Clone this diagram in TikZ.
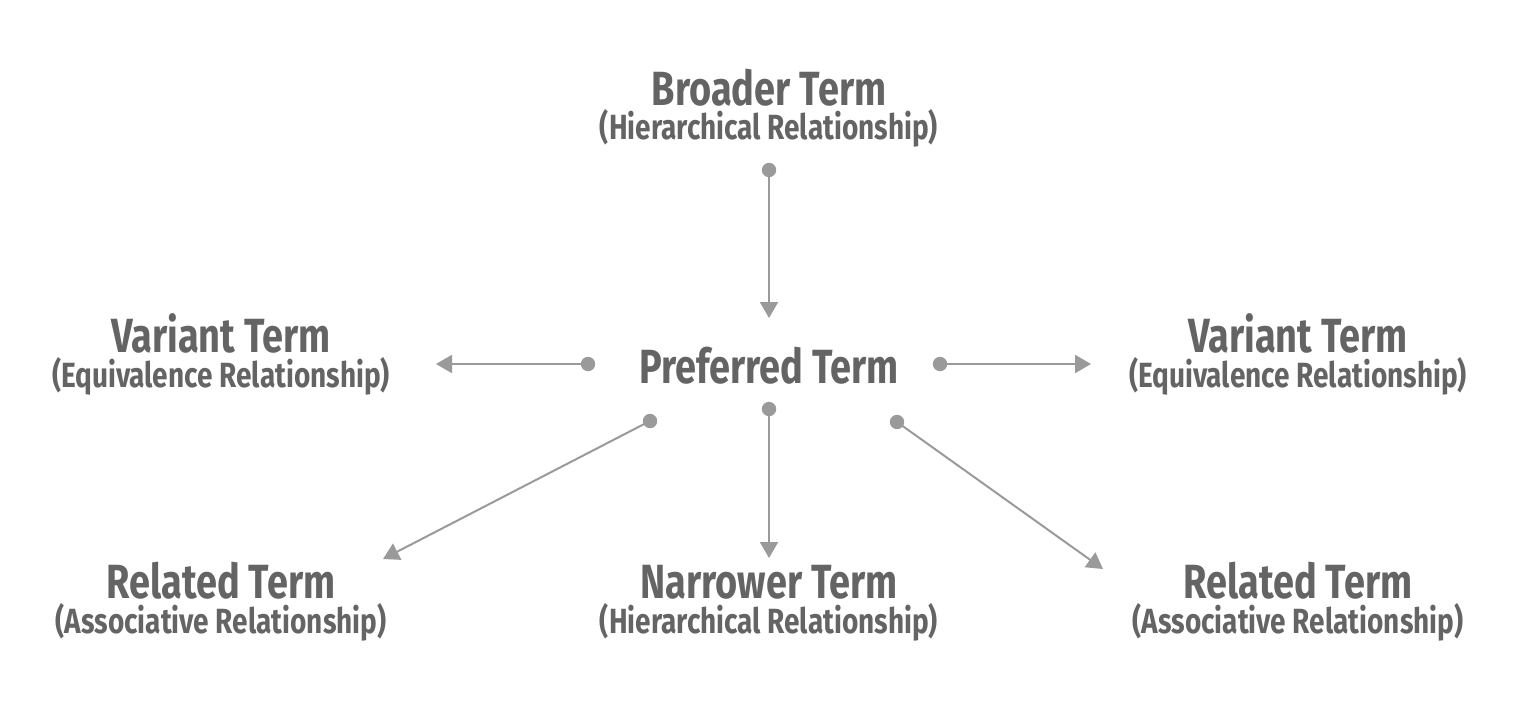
\documentclass[tikz,border=0pt]{standalone}
\usepackage{fontspec}
\setmainfont{Fira Sans}
\newfontfamily\ttlfont[FakeStretch=0.79]{Fira Sans Bold}
\newfontfamily\subfont[FakeStretch=0.8]{Fira Sans Bold}
\usetikzlibrary{arrows.meta}
\definecolor{txt}{HTML}{646464}
\definecolor{lin}{HTML}{9A9A9A}
\tikzset{
  ttl/.style={anchor=base, text=txt, inner sep=0pt, font=\ttlfont\fontsize{24}{24}\selectfont},
  sub/.style={anchor=base, text=txt, inner sep=0pt, font=\subfont\fontsize{17.5}{17.5}\selectfont},
  conn/.style={draw=lin, line width=1pt, -{Triangle[length=8pt,width=9pt]}},
  dotc/.style={fill=lin, draw=none}
}
\begin{document}
\begin{tikzpicture}[x=0.5pt,y=-0.5pt]
\useasboundingbox (0,0) rectangle (1535,701);
% labels
\node[ttl] (bt) at (769,105) {Broader Term};
\node[sub] (bs) at (769,140) {(Hierarchical Relationship)};
\node[ttl] (pt) at (769,383) {Preferred Term};
\node[ttl] (vlt) at (221,352) {Variant Term};
\node[sub] (vls) at (221,387) {(Equivalence Relationship)};
\node[ttl] (vrt) at (1298,352) {Variant Term};
\node[sub] (vrs) at (1298,387) {(Equivalence Relationship)};
\node[ttl] (rlt) at (221,598) {Related Term};
\node[sub] (rls) at (221,633) {(Associative Relationship)};
\node[ttl] (nt) at (769,598) {Narrower Term};
\node[sub] (ns) at (769,633) {(Hierarchical Relationship)};
\node[ttl] (rrt) at (1298,598) {Related Term};
\node[sub] (rrs) at (1298,633) {(Associative Relationship)};
% connector ends
\coordinate (d1) at (769,170); \coordinate (e1) at (769,318);
\coordinate (d2) at (588,364); \coordinate (e2) at (436,364);
\coordinate (d3) at (940,364); \coordinate (e3) at (1091,364);
\coordinate (d4) at (769,409); \coordinate (e4) at (769,558);
\coordinate (d5) at (650,421); \coordinate (e5) at (383,559);
\coordinate (d6) at (897,422); \coordinate (e6) at (1103,569);
\foreach \i in {1,...,6}{
  \draw[conn] (d\i) -- (e\i);
  \fill[dotc] (d\i) circle (3.6pt);
}
\end{tikzpicture}
\end{document}
